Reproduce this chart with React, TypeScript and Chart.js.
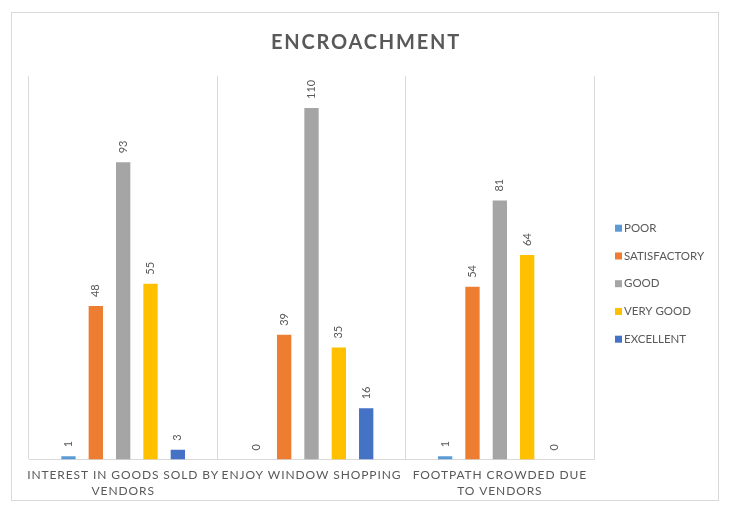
import React, { useEffect, useRef } from 'react';
import { Chart, registerables } from 'chart.js';

Chart.register(...registerables);

// ---- data ----
const categories: string[][] = [
  ['INTEREST IN GOODS SOLD BY', 'VENDORS'],
  ['ENJOY WINDOW SHOPPING'],
  ['FOOTPATH CROWDED DUE', 'TO VENDORS'],
];
const seriesNames = ['POOR', 'SATISFACTORY', 'GOOD', 'VERY GOOD', 'EXCELLENT'];
const poor = [1, 0, 1];
const satisfactory = [48, 39, 54];
const good = [93, 110, 81];
const veryGood = [55, 35, 64];
const excellent = [3, 16, 0];
const seriesColors = ['#5B9BD5', '#ED7D31', '#A5A5A5', '#FFC000', '#4472C4'];
const titleText = 'ENCROACHMENT';
const yMax = 120;

const FONT = 'Lato, "Open Sans", sans-serif';
const TEXT_COLOR = '#595959';

const spacingPlugin = {
  id: 'letterSpacingPatch',
  afterLayout(chart: any) {
    const x = chart.scales.x;
    if (x && !x.__patched) {
      const orig = x.drawLabels;
      x.drawLabels = function (area: any) {
        const ctx = chart.ctx;
        ctx.save();
        (ctx as any).letterSpacing = '0.9px';
        orig.call(this, area);
        ctx.restore();
      };
      x.__patched = true;
    }
  },
};

const titlePlugin = {
  id: 'centerTitle',
  afterDraw(chart: any) {
    const ctx = chart.ctx;
    ctx.save();
    (ctx as any).letterSpacing = '1.8px';
    ctx.font = `bold 20px ${FONT}`;
    ctx.fillStyle = TEXT_COLOR;
    ctx.textAlign = 'center';
    ctx.textBaseline = 'middle';
    ctx.fillText(titleText, chart.width / 2 + 1, 30);
    ctx.restore();
  },
};

const valueLabelPlugin = {
  id: 'valueLabels',
  afterDatasetsDraw(chart: any) {
    const ctx = chart.ctx;
    ctx.save();
    ctx.font = `11px ${FONT}`;
    ctx.fillStyle = TEXT_COLOR;
    ctx.textAlign = 'left';
    ctx.textBaseline = 'middle';
    chart.data.datasets.forEach((ds: any, i: number) => {
      const meta = chart.getDatasetMeta(i);
      meta.data.forEach((el: any, j: number) => {
        const v = ds.data[j];
        ctx.save();
        ctx.translate(el.x, el.y - 9);
        ctx.rotate(-Math.PI / 2);
        ctx.fillText(String(v), 0, 0);
        ctx.restore();
      });
    });
    ctx.restore();
  },
};

const legendPlugin = {
  id: 'customLegend',
  afterDraw(chart: any) {
    const ctx = chart.ctx;
    const area = chart.chartArea;
    const x0 = area.right + 21;
    const cy = (area.top + area.bottom) / 2 + 16;
    const step = 27.75;
    ctx.save();
    ctx.font = `11.5px ${FONT}`;
    ctx.textAlign = 'left';
    ctx.textBaseline = 'middle';
    chart.data.datasets.forEach((ds: any, i: number) => {
      const y = cy + (i - 2) * step;
      ctx.fillStyle = ds.backgroundColor;
      ctx.fillRect(x0, y - 3.5, 7, 7);
      ctx.fillStyle = TEXT_COLOR;
      ctx.fillText(ds.label, x0 + 9, y);
    });
    ctx.restore();
  },
};

export default function App() {
  const canvasRef = useRef<HTMLCanvasElement | null>(null);

  useEffect(() => {
    if (!canvasRef.current) return;
    const seriesValues = [poor, satisfactory, good, veryGood, excellent];
    const chart = new Chart(canvasRef.current, {
      type: 'bar',
      data: {
        labels: categories,
        datasets: seriesNames.map((name, i) => ({
          label: name,
          data: seriesValues[i],
          backgroundColor: seriesColors[i],
          borderWidth: 0,
          categoryPercentage: 0.726,
          barPercentage: 0.524,
        })),
      },
      options: {
        animation: false,
        responsive: true,
        maintainAspectRatio: false,
        layout: { padding: { left: 17, right: 124, top: 63, bottom: -7 } },
        plugins: {
          legend: { display: false },
          tooltip: { enabled: false },
          title: { display: false },
        },
        scales: {
          x: {
            grid: { display: true, color: '#d9d9d9', drawTicks: false, offset: true },
            border: { display: true, color: '#d9d9d9' },
            ticks: {
              color: TEXT_COLOR,
              font: { family: FONT, size: 12, lineHeight: 1.4 },
              padding: 7,
              maxRotation: 0,
              autoSkip: false,
            },
          },
          y: { display: false, min: 0, max: yMax },
        },
      } as any,
      plugins: [spacingPlugin, valueLabelPlugin, legendPlugin, titlePlugin],
    });
    return () => chart.destroy();
  }, []);

  return (
    <div
      style={{
        marginLeft: 3,
        marginTop: 4,
        width: 708,
        height: 489,
        border: '1px solid #d9d9d9',
        boxSizing: 'border-box',
        background: '#fff',
      }}
    >
      <div style={{ position: 'relative', width: 706, height: 487 }}>
        <canvas ref={canvasRef} />
      </div>
    </div>
  );
}
